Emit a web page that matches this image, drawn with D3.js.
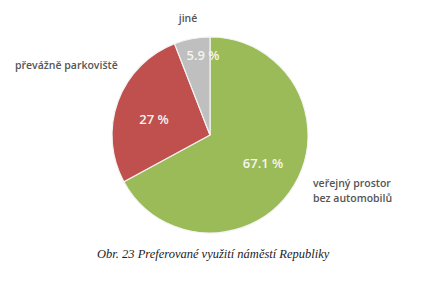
<!DOCTYPE html>
<html><head><meta charset="utf-8">
<script src="https://cdn.jsdelivr.net/npm/d3@7"></script>
<style>body{margin:0;background:#fff}svg{display:block}</style>
</head><body>
<script>
const categories = ["veřejný prostor bez automobilů", "převážně parkoviště", "jiné"];
const values = [67.1, 27, 5.9];
const valueLabels = ["67.1 %", "27 %", "5.9 %"];
const colors = ["#9bbb59", "#c0504d", "#bfbfbf"];
const caption = "Obr. 23 Preferované využití náměstí Republiky";

const W = 429, H = 284, cx = 210, cy = 135, R = 98;
const svg = d3.select("body").append("svg").attr("width", W).attr("height", H);
const g = svg.append("g").attr("transform", `translate(${cx},${cy})`);
const pie = d3.pie().sort(null).value(d => d)(values);
const arc = d3.arc().innerRadius(0).outerRadius(R);
g.selectAll("path").data(pie).join("path")
  .attr("d", arc).attr("fill", (d, i) => colors[i])
  .attr("stroke", "#f4f4f4").attr("stroke-width", 1.2);

const labelPos = [[53, 28], [-56, -16], [-7, -80]];
g.selectAll("text.v").data(pie).join("text").attr("class", "v")
  .attr("x", (d, i) => labelPos[i][0]).attr("y", (d, i) => labelPos[i][1])
  .attr("text-anchor", "middle").attr("dominant-baseline", "central")
  .attr("font-family", "Open Sans").attr("font-size", 13).attr("font-weight", 600)
  .attr("fill", "#f5f5f0").text((d, i) => valueLabels[i]);

const cat = svg.append("g").attr("font-family", "Open Sans").attr("font-size", 10.5)
  .attr("font-weight", 600).attr("fill", "#555");
cat.append("text").attr("x", 188).attr("y", 22).attr("text-anchor", "middle").text(categories[2]);
cat.append("text").attr("x", 15).attr("y", 69).text(categories[1]);
const t = cat.append("text").attr("x", 313).attr("y", 187);
t.append("tspan").attr("x", 313).text("veřejný prostor");
t.append("tspan").attr("x", 313).attr("dy", 15).text("bez automobilů");

svg.append("text").attr("x", 97).attr("y", 258)
  .attr("font-family", "Liberation Serif").attr("font-style", "italic").attr("font-size", 12.5)
  .attr("fill", "#222").text(caption);
</script>
</body></html>
